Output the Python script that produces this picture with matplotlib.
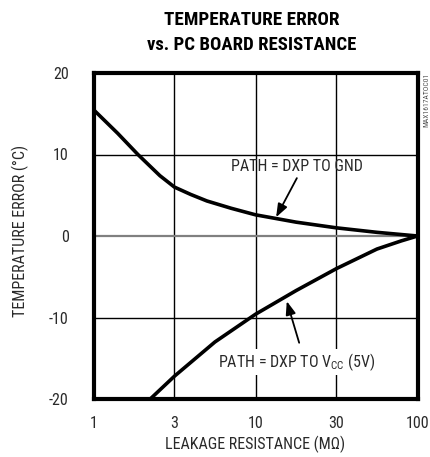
import matplotlib
matplotlib.use("Agg")
import matplotlib.pyplot as plt
from matplotlib import font_manager as fm

# ---- data ----
gnd_resistance = [1.0, 1.41, 1.88, 2.57, 3.16, 3.98, 5.01, 7.08, 10.0, 17.8, 31.6, 56.2, 100.0]
gnd_error      = [15.5, 12.6, 10.0, 7.4, 6.0, 5.1, 4.3, 3.4, 2.6, 1.7, 1.0, 0.45, 0.0]

vcc_resistance = [2.24, 3.16, 5.62, 10.0, 17.8, 31.6, 56.2, 79.4, 100.0]
vcc_error      = [-20.0, -17.2, -13.0, -9.6, -6.7, -4.0, -1.6, -0.6, 0.0]

x_ticks = [1.0, 3.16, 10.0, 31.6, 100.0]
x_tick_labels = ["1", "3", "10", "30", "100"]
y_ticks = [-20, -10, 0, 10, 20]
y_tick_labels = ["-20", "-10", "0", "10", "20"]

title_lines = ["TEMPERATURE ERROR", "vs. PC BOARD RESISTANCE"]
x_label = "LEAKAGE RESISTANCE (MΩ)"
y_label = "TEMPERATURE ERROR (°C)"
gnd_note = "PATH = DXP TO GND"
vcc_note = r"PATH = DXP TO V$_{\mathregular{CC}}$ (5V)"
code_note = "MAX1617ATOC01"

# ---- fonts: look for a condensed sans ----
cands = []
for f in fm.fontManager.ttflist:
    fn = f.fname.lower()
    if ('narrow' in fn or 'condensed' in fn or 'cond' in fn) and 'mono' not in fn and 'serif' not in fn.replace('sans', ''):
        cands.append(f)
def pick(bold):
    pref = ['liberationsansnarrow', 'robotocondensed', 'opensans_condensed', 'opensanscondensed',
            'dejavusanscondensed', 'notosans', 'lato', 'inter']
    for p in pref:
        for f in cands:
            fn = f.fname.lower().replace('-', '').replace(' ', '').replace('_', '')
            if p.replace('_', '') in fn:
                isb = ('bold' in fn) and ('semibold' not in fn) and ('extrabold' not in fn)
                isi = 'italic' in fn or 'oblique' in fn
                if isi:
                    continue
                if bold == isb and not ('light' in fn or 'thin' in fn or 'medium' in fn or 'black' in fn):
                    return f
    return None
reg = pick(False)
bld = pick(True)
fam = reg.name if reg is not None else 'Liberation Sans'
plt.rcParams['font.family'] = [fam, 'DejaVu Sans']
plt.rcParams['mathtext.fontset'] = 'custom'
plt.rcParams['mathtext.rm'] = fam
plt.rcParams['xtick.major.pad'] = 12
plt.rcParams['ytick.major.pad'] = 18
reg_fp = fm.FontProperties(fname=reg.fname) if reg is not None else fm.FontProperties(family='Liberation Sans')
bld_fp = fm.FontProperties(fname=bld.fname) if bld is not None else fm.FontProperties(family='Liberation Sans', weight='bold')

txt = '#2a2a2a'
fs = 11.5

fig = plt.figure(figsize=(4.30, 4.57), dpi=100)
ax = fig.add_axes([93.5/430, 1-399/457, 324/430, 326/457])

ax.set_xscale('log')
ax.set_xlim(1, 100)
ax.set_ylim(-20, 20)

ax.set_xticks(x_ticks)
ax.set_xticklabels(x_tick_labels)
ax.xaxis.set_minor_locator(matplotlib.ticker.NullLocator())
ax.set_yticks(y_ticks)
ax.set_yticklabels(y_tick_labels)
ax.tick_params(length=0, labelcolor=txt)
for lab in ax.get_xticklabels() + ax.get_yticklabels():
    lab.set_fontproperties(reg_fp)
    lab.set_fontsize(fs)

# grid
for xv in x_ticks[1:-1]:
    ax.axvline(xv, color='black', lw=1.0, zorder=1)
for yv in [-10, 10]:
    ax.axhline(yv, color='black', lw=1.0, zorder=1)
ax.axhline(0, color='#808080', lw=1.6, zorder=1)

for s in ax.spines.values():
    s.set_linewidth(3.0)
    s.set_color('black')

ax.plot(gnd_resistance, gnd_error, color='black', lw=2.6, zorder=3,
        solid_joinstyle='round', solid_capstyle='butt')
ax.plot(vcc_resistance, vcc_error, color='black', lw=2.6, zorder=3,
        solid_joinstyle='round', solid_capstyle='butt')

# annotations
ax.annotate("", xy=(13.4, 2.3), xytext=(18.0, 7.1),
            arrowprops=dict(arrowstyle='-|>,head_length=0.8,head_width=0.3',
                            color='black', lw=1.3, shrinkA=0, shrinkB=0), zorder=4)
ax.text(18.0, 8.5, gnd_note, ha='center', va='center', fontproperties=reg_fp,
        fontsize=fs, color=txt, zorder=4)

ax.annotate("", xy=(15.6, -8.0), xytext=(18.6, -13.1),
            arrowprops=dict(arrowstyle='-|>,head_length=0.8,head_width=0.3',
                            color='black', lw=1.3, shrinkA=0, shrinkB=0), zorder=4)
ax.text(17.9, -15.5, vcc_note, ha='center', va='center', fontproperties=reg_fp,
        fontsize=fs, color=txt, zorder=4,
        bbox=dict(facecolor='white', edgecolor='none', pad=1.5))

ax.set_xlabel(x_label, fontproperties=reg_fp, fontsize=fs, color=txt, labelpad=4)
fig.text(20/430, 1-231/457, y_label, rotation=90, ha='center', va='center',
         fontproperties=reg_fp, fontsize=fs, color=txt)

fig.text(252/430, 1-20/457, title_lines[0], ha='center', va='center',
         fontproperties=bld_fp, fontsize=13.8, color='black')
fig.text(252/430, 1-45/457, title_lines[1], ha='center', va='center',
         fontproperties=bld_fp, fontsize=13.5, color='black')

fig.text(426/430, 1-100/457, code_note, rotation=90, ha='center', va='center',
         fontproperties=reg_fp, fontsize=5.5, color='#555555')

fig.savefig("out.png", dpi=100)
